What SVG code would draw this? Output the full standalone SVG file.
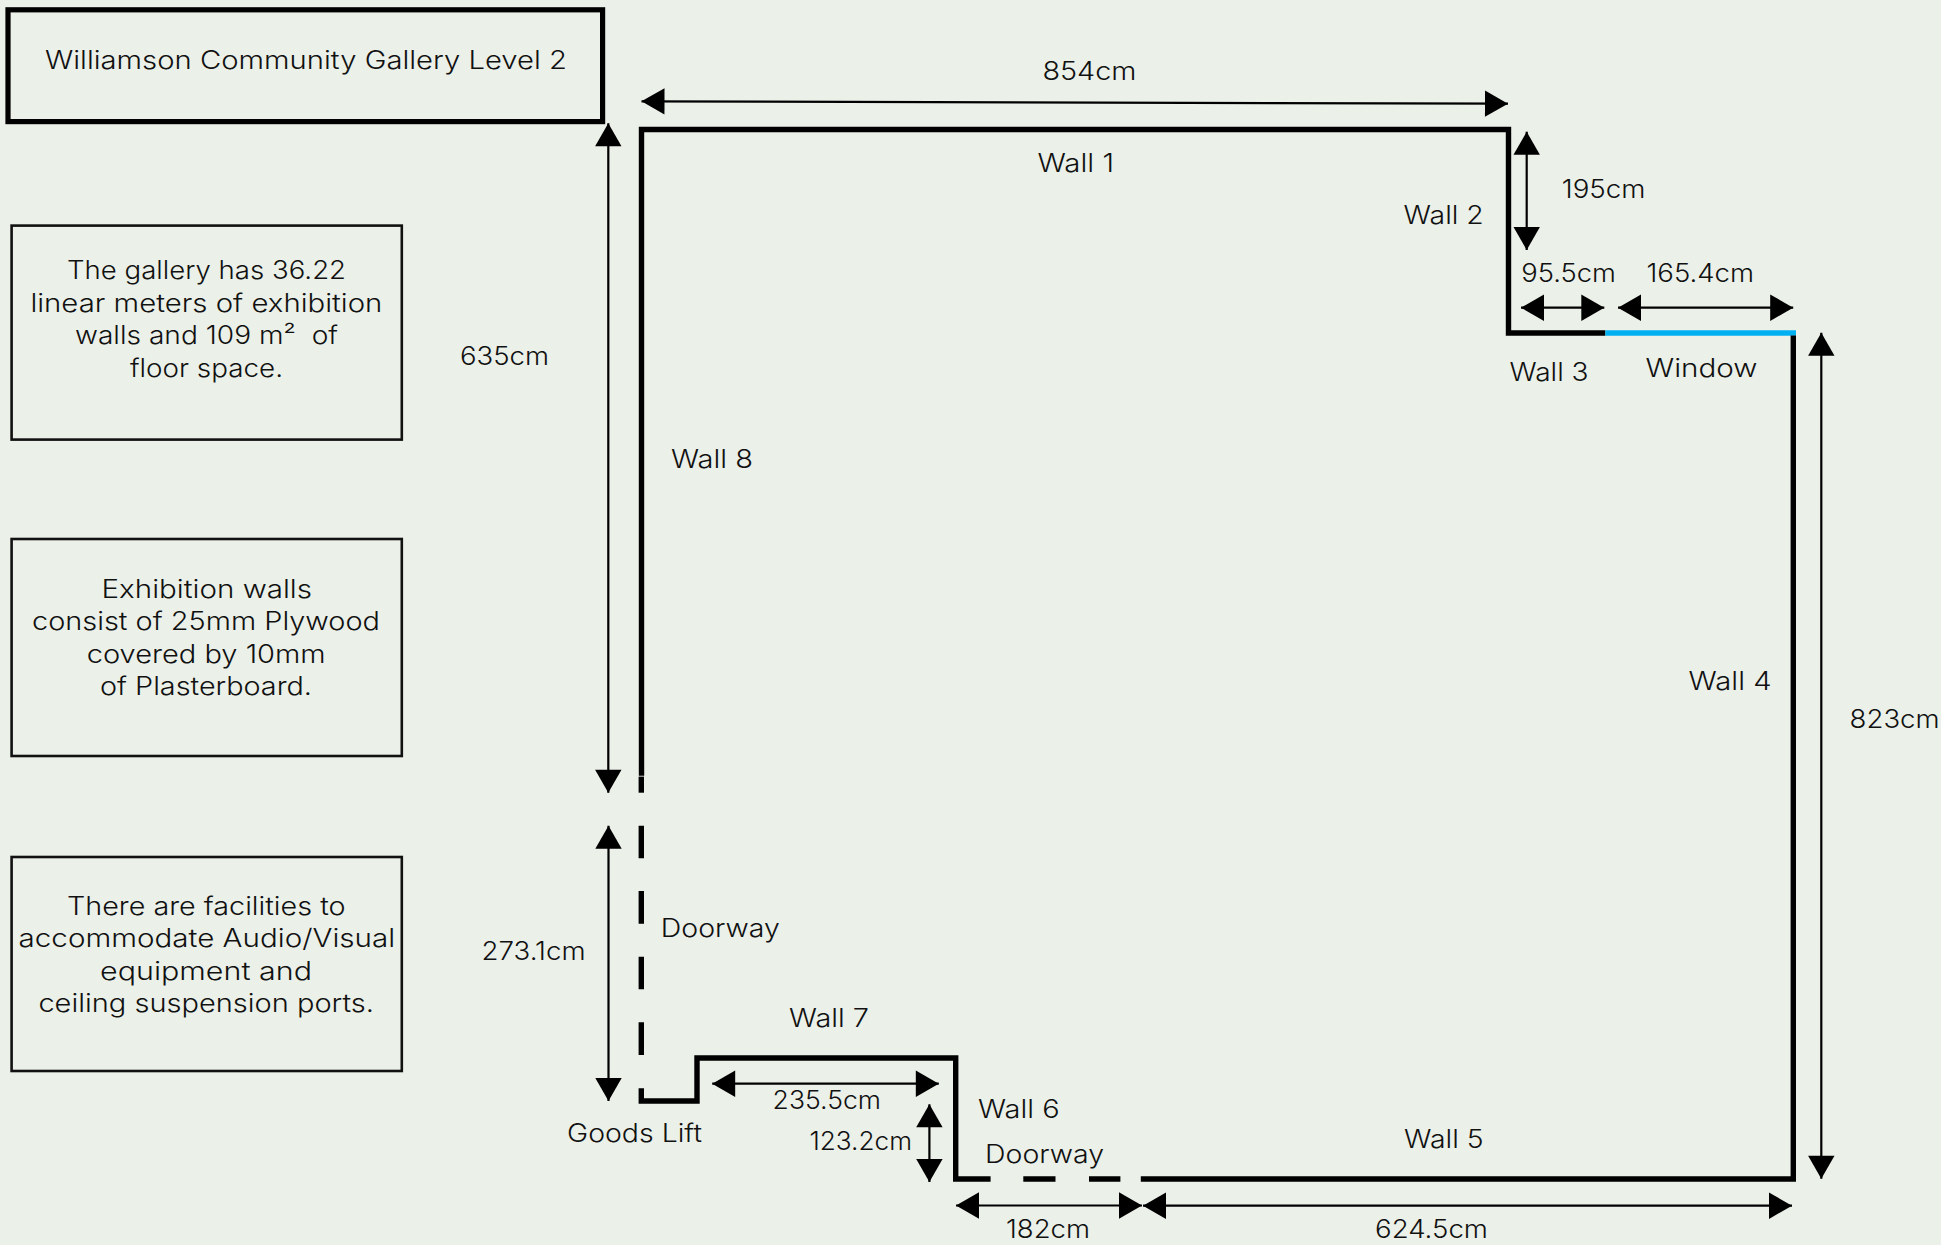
<svg xmlns="http://www.w3.org/2000/svg" width="1941" height="1245" viewBox="0 0 1941 1245">
<style>
text{font-family:Inter,"Open Sans","Liberation Sans",sans-serif;font-size:25.5px;font-weight:300;fill:#111;white-space:pre}
.box{fill:none;stroke:#111;stroke-width:2.6}
.title{fill:none;stroke:#000;stroke-width:5.2}
.wall{fill:none;stroke:#000;stroke-width:5.4;stroke-linejoin:miter;stroke-linecap:butt}
.win{fill:none;stroke:#00b0f0;stroke-width:5.4}
.dim{fill:none;stroke:#000;stroke-width:2.2;marker-start:url(#ah);marker-end:url(#ah)}
</style>
<defs>
<marker id="ah" markerUnits="userSpaceOnUse" markerWidth="24" markerHeight="28" refX="23" refY="13.2" orient="auto-start-reverse" overflow="visible"><path d="M0 0L23 13.2L0 26.4Z" fill="#000"/></marker>
</defs>
<rect width="1941" height="1245" fill="#ebf0e9"/>
<g id="title-box"><rect class="title" x="8" y="9.8" width="594.6" height="111.8"/>
<text x="45" y="69" textLength="522" lengthAdjust="spacingAndGlyphs">Williamson Community Gallery Level 2</text></g>
<g id="info-space"><rect class="box" x="11.6" y="225.6" width="390.2" height="214"/>
<text x="67" y="278.5" textLength="279" lengthAdjust="spacingAndGlyphs">The gallery has 36.22</text>
<text x="30.4" y="311.5" textLength="352" lengthAdjust="spacingAndGlyphs">linear meters of exhibition</text>
<text x="75" y="344" textLength="263" lengthAdjust="spacingAndGlyphs">walls and 109 m²  of</text>
<text x="130" y="376.5" textLength="153" lengthAdjust="spacingAndGlyphs">floor space.</text></g>
<g id="info-walls"><rect class="box" x="11.6" y="539" width="390.2" height="217"/>
<text x="101.5" y="597.5" textLength="210.5" lengthAdjust="spacingAndGlyphs">Exhibition walls</text>
<text x="32" y="629.5" textLength="348" lengthAdjust="spacingAndGlyphs">consist of 25mm Plywood</text>
<text x="86.7" y="662.5" textLength="239" lengthAdjust="spacingAndGlyphs">covered by 10mm</text>
<text x="100" y="694.5" textLength="212" lengthAdjust="spacingAndGlyphs">of Plasterboard.</text></g>
<g id="info-facilities"><rect class="box" x="11.6" y="857" width="390.2" height="214"/>
<text x="67" y="915" textLength="278.5" lengthAdjust="spacingAndGlyphs">There are facilities to</text>
<text x="18.6" y="947" textLength="376.5" lengthAdjust="spacingAndGlyphs">accommodate Audio/Visual</text>
<text x="100" y="980" textLength="212" lengthAdjust="spacingAndGlyphs">equipment and</text>
<text x="38.4" y="1012" textLength="335.6" lengthAdjust="spacingAndGlyphs">ceiling suspension ports.</text></g>
<g id="walls">
<path class="wall" d="M641.5 775.8V129.5H1508.5V333H1605.4"/>
<path class="wall" d="M641.3 776.6V792.7"/>
<path class="win" d="M1605.4 333H1796"/>
<path class="wall" d="M1793.3 335.6V1179H1140.8"/>
<path class="wall" d="M641.3 825.7V858.3M641.3 891V923.7M641.3 956.7V989.3M641.3 1022.3V1055"/>
<path class="wall" d="M641.3 1088.3V1101H697V1058H955.7V1179H990.6"/>
<path class="wall" d="M1023.3 1179H1055.5M1089 1179H1120.4"/>
</g>
<g id="connectors">
<path class="dim" d="M641.5 101.3L1508 103.7"/>
<path class="dim" d="M608.3 123.3V792.7"/>
<path class="dim" d="M608.5 825.7V1101"/>
<path class="dim" d="M1526.7 131.7V250"/>
<path class="dim" d="M1521 307.7H1604.3"/>
<path class="dim" d="M1618 307.7H1793.2"/>
<path class="dim" d="M1821.3 332.7V1178.7"/>
<path class="dim" d="M712.2 1083.7H938.8"/>
<path class="dim" d="M929.4 1104.3V1182"/>
<path class="dim" d="M956 1205.5H1142"/>
<path class="dim" d="M1143 1205.7H1792"/>
</g>
<g id="labels">
<text x="1042.4" y="80" textLength="94" lengthAdjust="spacingAndGlyphs">854cm</text>
<text x="1037.5" y="171.5" textLength="76.5" lengthAdjust="spacingAndGlyphs">Wall 1</text>
<text x="460" y="365" textLength="89" lengthAdjust="spacingAndGlyphs">635cm</text>
<text x="671" y="468" textLength="82" lengthAdjust="spacingAndGlyphs">Wall 8</text>
<text x="481.6" y="959.5" textLength="104" lengthAdjust="spacingAndGlyphs">273.1cm</text>
<text x="660.8" y="937" textLength="119" lengthAdjust="spacingAndGlyphs">Doorway</text>
<text x="789" y="1026.7" textLength="80" lengthAdjust="spacingAndGlyphs">Wall 7</text>
<text x="772.6" y="1109.3" textLength="108.4" lengthAdjust="spacingAndGlyphs">235.5cm</text>
<text x="978" y="1118.3" textLength="81.6" lengthAdjust="spacingAndGlyphs">Wall 6</text>
<text x="985" y="1163.3" textLength="119" lengthAdjust="spacingAndGlyphs">Doorway</text>
<text x="809.4" y="1150" textLength="102.6" lengthAdjust="spacingAndGlyphs">123.2cm</text>
<text x="567" y="1142.3" textLength="135" lengthAdjust="spacingAndGlyphs">Goods Lift</text>
<text x="1006" y="1238.3" textLength="84" lengthAdjust="spacingAndGlyphs">182cm</text>
<text x="1561.8" y="197.7" textLength="83.7" lengthAdjust="spacingAndGlyphs">195cm</text>
<text x="1403.6" y="224.3" textLength="80.2" lengthAdjust="spacingAndGlyphs">Wall 2</text>
<text x="1521.3" y="281.7" textLength="94.7" lengthAdjust="spacingAndGlyphs">95.5cm</text>
<text x="1646.5" y="281.7" textLength="107.5" lengthAdjust="spacingAndGlyphs">165.4cm</text>
<text x="1509.5" y="381" textLength="79.1" lengthAdjust="spacingAndGlyphs">Wall 3</text>
<text x="1645.5" y="376.7" textLength="112" lengthAdjust="spacingAndGlyphs">Window</text>
<text x="1688.6" y="689.5" textLength="83" lengthAdjust="spacingAndGlyphs">Wall 4</text>
<text x="1849.6" y="728" textLength="90" lengthAdjust="spacingAndGlyphs">823cm</text>
<text x="1404" y="1148.3" textLength="79.6" lengthAdjust="spacingAndGlyphs">Wall 5</text>
<text x="1375" y="1238.3" textLength="113" lengthAdjust="spacingAndGlyphs">624.5cm</text>
</g>
</svg>
